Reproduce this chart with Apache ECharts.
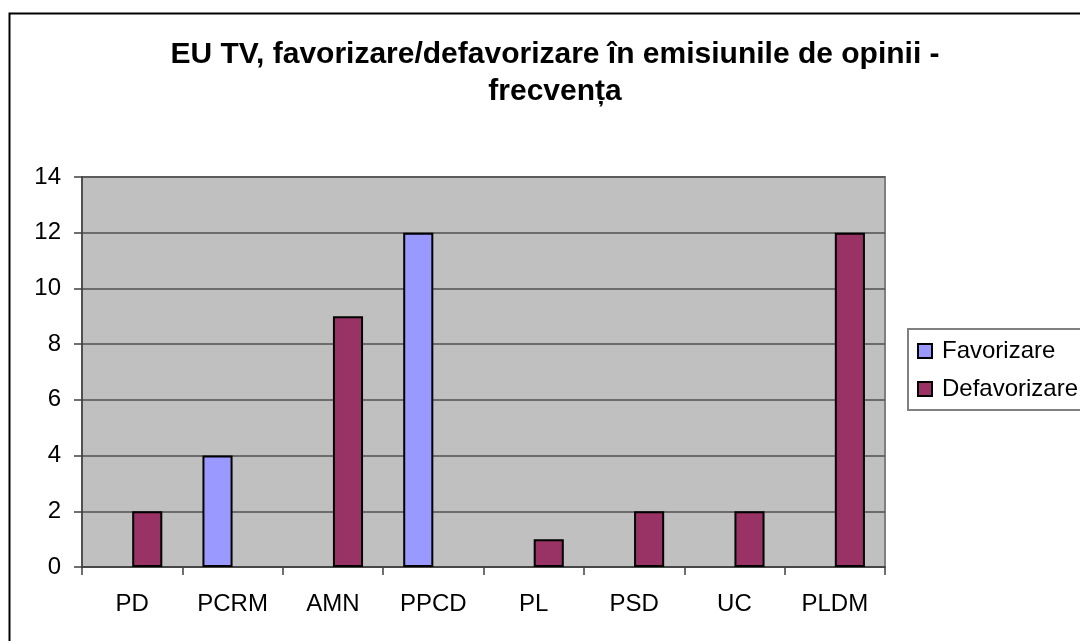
<!DOCTYPE html>
<html>
<head>
<meta charset="utf-8">
<script src="https://cdn.jsdelivr.net/npm/echarts@6/dist/echarts.min.js"></script>
<style>
	html, body { margin: 0; padding: 0; background: #fff; }
	#bar { width: 1080px; height: 641px; }
</style>
</head>
<body>
<div id="bar"></div>
<script>
// date
let partide = ['PD', 'PCRM', 'AMN', 'PPCD', 'PL', 'PSD', 'UC', 'PLDM'];
let favorizare = [null, 4, null, 12, null, null, null, null];
let defavorizare = [2, null, 9, null, 1, 2, 2, 12];
let yTicks = { min: 0, max: 14, interval: 2 };

let font = 'Liberation Sans, Arial, sans-serif';
let myChart = echarts.init(document.getElementById('bar'));

myChart.setOption({
	animation: false,
	backgroundColor: '#fff',
	graphic: [{
		type: 'rect',
		shape: { x: 9.5, y: 13.5, width: 1200, height: 800 },
		style: { fill: 'none', stroke: '#000', lineWidth: 2 },
		z: -1
	}],
	title: {
		text: 'EU TV, favorizare/defavorizare în emisiunile de opinii -\nfrecvența',
		left: 555,
		top: 36,
		textAlign: 'center',
		padding: 0,
		textStyle: {
			fontFamily: font,
			fontSize: 30,
			fontWeight: 'bold',
			lineHeight: 37,
			color: '#000'
		}
	},
	legend: {
		orient: 'vertical',
		left: 908,
		top: 329,
		padding: [10, 12, 9, 9],
		itemWidth: 14,
		itemHeight: 14,
		itemGap: 14,
		icon: 'rect',
		borderColor: '#808080',
		borderWidth: 2,
		textStyle: {
			fontFamily: font,
			fontSize: 24,
			lineHeight: 24,
			color: '#000',
			padding: [0, 0, 0, 5]
		},
		data: ['Favorizare', 'Defavorizare']
	},
	grid: {
		left: 82,
		top: 177,
		right: 195,
		bottom: 74,
		show: true,
		backgroundColor: '#C0C0C0',
		borderColor: '#808080',
		borderWidth: 2
	},
	xAxis: {
		type: 'category',
		data: partide,
		boundaryGap: true,
		axisLine: { lineStyle: { color: '#404040', width: 1.5 } },
		axisTick: { show: true, length: 8, lineStyle: { color: '#404040', width: 1.5 } },
		axisLabel: {
			margin: 25,
			fontFamily: font,
			fontSize: 24,
			color: '#000'
		}
	},
	yAxis: {
		type: 'value',
		min: yTicks.min,
		max: yTicks.max,
		interval: yTicks.interval,
		axisLine: { show: true, lineStyle: { color: '#404040', width: 1.5 } },
		axisTick: { show: true, length: 8, lineStyle: { color: '#404040', width: 1.5 } },
		splitLine: { lineStyle: { color: '#505050', width: 1.5 } },
		axisLabel: {
			margin: 21,
			fontFamily: font,
			fontSize: 24,
			color: '#000'
		}
	},
	series: [{
		name: 'Favorizare',
		type: 'bar',
		barGap: 0,
		barCategoryGap: '40%',
		itemStyle: { color: '#9999FF', borderColor: '#000', borderWidth: 2 },
		data: favorizare
	}, {
		name: 'Defavorizare',
		type: 'bar',
		barGap: 0,
		barCategoryGap: '40%',
		itemStyle: { color: '#993366', borderColor: '#000', borderWidth: 2 },
		data: defavorizare
	}]
});
</script>
</body>
</html>
